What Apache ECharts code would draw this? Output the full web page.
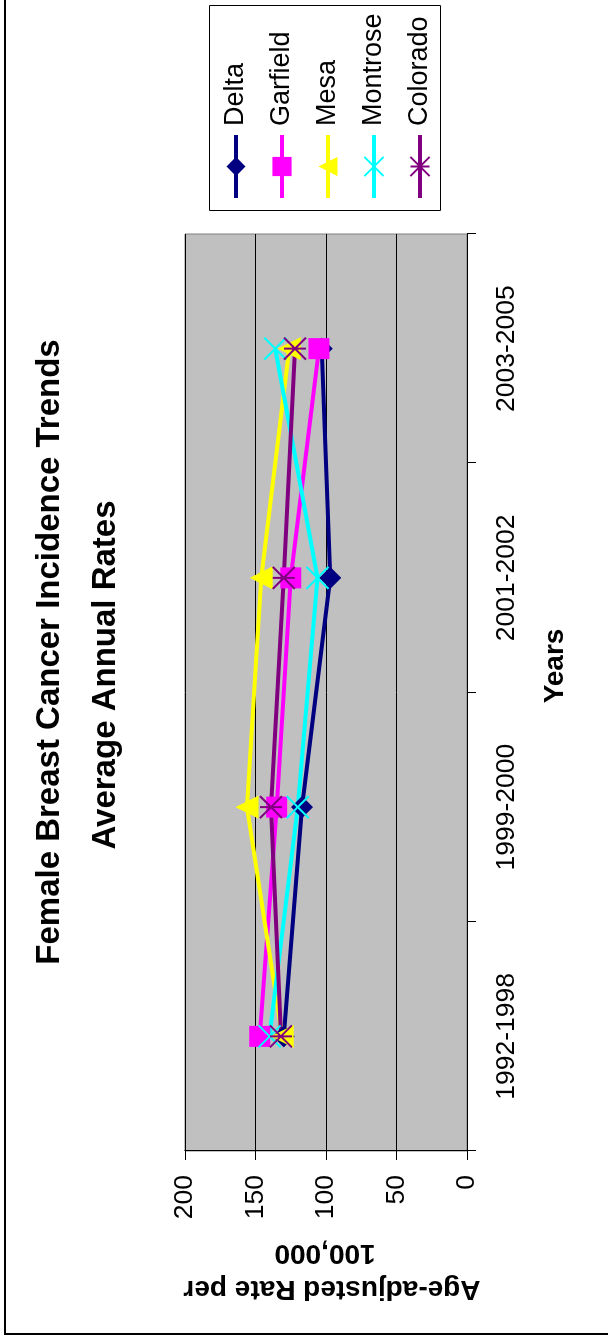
<!DOCTYPE html>
<html>
<head>
<meta charset="utf-8">
<title>Female Breast Cancer Incidence Trends</title>
<script src="https://cdn.jsdelivr.net/npm/echarts@6/dist/echarts.min.js"></script>
<style>
  html, body { margin: 0; padding: 0; background: #fff; overflow: hidden; width: 608px; height: 1338px; }
  /* The chart is laid out landscape and turned a quarter turn counter-clockwise onto the page */
  #chart {
    position: absolute; left: 0; top: 0;
    width: 1338px; height: 608px;
    transform-origin: 0 0;
    transform: translate(0px, 1338px) rotate(-90deg);
  }
</style>
</head>
<body>
<div id="chart"></div>
<script>
// Age-adjusted rates per 100,000, by period
const categories = ['1992-1998', '1999-2000', '2001-2002', '2003-2005'];
const delta    = [130, 117, 97, 103];
const garfield = [147, 135, 125, 105];
const mesa     = [131, 156, 146, 126];
const montrose = [140, 120, 106, 136];
const colorado = [132, 139, 130, 122];

const valueMin = 0;
const valueMax = 200;
const valueStep = 50;

const FONT = "'Liberation Sans', Arial, Helvetica, sans-serif";

// X mark and asterisk drawn as stroked paths
const X_PATH = 'path://M0,0L22,22M22,0L0,22';
const STAR_PATH = 'path://M0,0L22,22M22,0L0,22M11,0L11,22';

function makeSeries(name, data, color, symbol, size, stroked) {
  return {
    name: name,
    type: 'line',
    data: data,
    symbol: symbol,
    symbolSize: size,
    showSymbol: true,
    showAllSymbol: true,
    lineStyle: { color: color, width: 4 },
    itemStyle: stroked
      ? { color: color, borderColor: color, borderWidth: 2 }
      : { color: color, borderWidth: 0 },
    emphasis: { disabled: true },
    animation: false
  };
}

const chart = echarts.init(document.getElementById('chart'), null, { renderer: 'canvas' });

chart.setOption({
  backgroundColor: '#ffffff',
  animation: false,
  textStyle: { fontFamily: FONT },
  grid: {
    left: 187, right: 234, top: 185, bottom: 141,
    show: true,
    backgroundColor: '#C0C0C0',
    borderColor: '#808080',
    borderWidth: 1
  },
  legend: {
    orient: 'vertical',
    left: 1138, top: 221,
    padding: 0,
    itemWidth: 63,
    itemHeight: 24,
    itemGap: 16,
    z: 10,
    selectedMode: false,
    lineStyle: { width: 4 },
    textStyle: { fontFamily: FONT, fontSize: 27, color: '#000', lineHeight: 30, padding: [0, 0, 0, 4] },
    data: ['Delta', 'Garfield', 'Mesa', 'Montrose', 'Colorado']
  },
  xAxis: {
    type: 'category',
    data: categories,
    boundaryGap: true,
    axisLine: { show: true, lineStyle: { color: '#000', width: 1 } },
    axisTick: { show: true, length: 9, interval: 0, lineStyle: { color: '#000', width: 1 } },
    axisLabel: { interval: 0, margin: 26, fontSize: 26.5, color: '#000', fontFamily: FONT },
    splitLine: { show: false }
  },
  yAxis: {
    type: 'value',
    min: valueMin, max: valueMax, interval: valueStep,
    axisLine: { show: true, lineStyle: { color: '#000', width: 1 } },
    axisTick: { show: true, length: 9, lineStyle: { color: '#000', width: 1 } },
    axisLabel: { margin: 24, fontSize: 26.5, color: '#000', fontFamily: FONT },
    splitLine: { show: true, lineStyle: { color: '#000', width: 1 } }
  },
  graphic: [
    // outer chart frame
    { type: 'rect', z: 0, shape: { x: 4, y: 5, width: 1400, height: 700 },
      style: { fill: null, stroke: '#000', lineWidth: 2 } },
    // legend frame
    { type: 'rect', z: 1, shape: { x: 1127.5, y: 209.5, width: 205, height: 231 },
      style: { fill: '#fff', stroke: '#000', lineWidth: 1 } },
    // chart title
    { type: 'text', z: 5, x: 686, y: 50,
      style: { text: 'Female Breast Cancer Incidence Trends', fill: '#000',
        font: 'bold 33px ' + FONT, align: 'center', verticalAlign: 'middle' } },
    { type: 'text', z: 5, x: 663, y: 106,
      style: { text: 'Average Annual Rates', fill: '#000',
        font: 'bold 33px ' + FONT, align: 'center', verticalAlign: 'middle' } },
    // axis titles
    { type: 'text', z: 5, x: 672, y: 555,
      style: { text: 'Years', fill: '#000',
        font: 'bold 28px ' + FONT, align: 'center', verticalAlign: 'middle' } },
    { type: 'text', z: 5, x: 49, y: 332, rotation: Math.PI / 2,
      style: { text: 'Age-adjusted Rate per', fill: '#000',
        font: 'bold 28px ' + FONT, align: 'center', verticalAlign: 'middle' } },
    { type: 'text', z: 5, x: 85, y: 325, rotation: Math.PI / 2,
      style: { text: '100,000', fill: '#000',
        font: 'bold 28px ' + FONT, align: 'center', verticalAlign: 'middle' } }
  ],
  series: [
    makeSeries('Delta', delta, '#000080', 'diamond', 22, false),
    makeSeries('Garfield', garfield, '#FF00FF', 'rect', 21, false),
    makeSeries('Mesa', mesa, '#FFFF00', 'triangle', 23, false),
    makeSeries('Montrose', montrose, '#00FFFF', X_PATH, 22, true),
    makeSeries('Colorado', colorado, '#800080', STAR_PATH, 22, true)
  ]
});
</script>
</body>
</html>
